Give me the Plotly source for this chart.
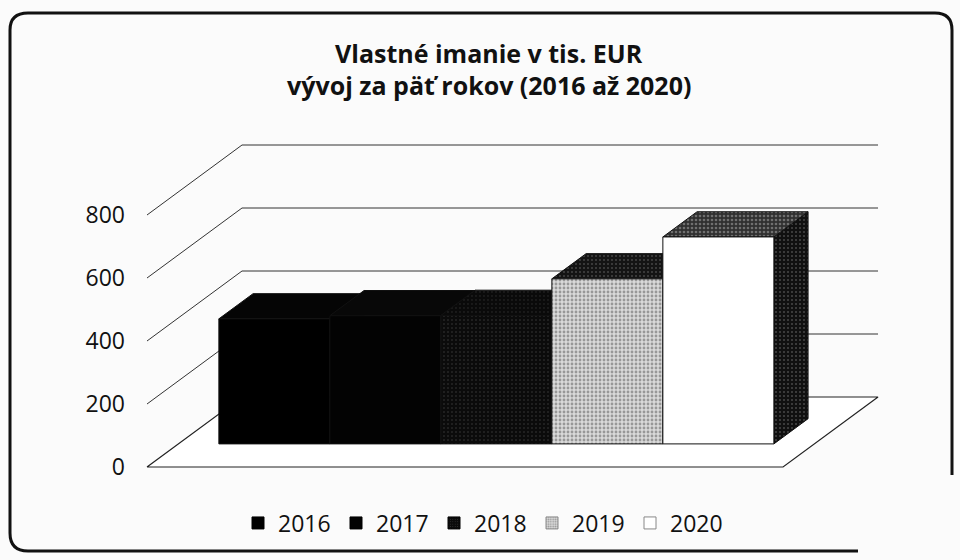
import plotly.graph_objects as go

# ---------------- data ----------------
years = ["2016", "2017", "2018", "2019", "2020"]
values = [397, 407, 408, 524, 657]
tick_vals = [0, 200, 400, 600, 800]
tick_text = ["0", "200", "400", "600", "800"]
title_line1 = "Vlastné imanie v tis. EUR"
title_line2 = "vývoj za päť rokov (2016 až 2020)"

# ---------------- geometry (oblique 3D projection in data units) ----------------
W = 960
H = 560
ML, MR, MT, MB = 130, 60, 130, 80
PX_PER_SLOT = 111.0
PX_PER_VAL = 0.315
X0_PX = 147.0   # pixel of front-left floor corner
Y0_PX = 467.0   # pixel of value 0 on front plane

DX = 95.0 / PX_PER_SLOT      # depth offset in slot units (full depth)
DY = 70.0 / PX_PER_VAL       # depth offset in value units (full depth)
GAP = 0.365                  # side gap of floor in slots
FLOOR_W = len(years) + 2 * GAP
ZF, ZB = 0.33, 0.69          # bar front/back depth

x_lo = (ML - X0_PX) / PX_PER_SLOT
x_hi = (W - MR - X0_PX) / PX_PER_SLOT
y_lo = (Y0_PX - (H - MB)) / PX_PER_VAL
y_hi = (Y0_PX - MT) / PX_PER_VAL


def proj(x, v, z):
    return x + z * DX, v + z * DY


def px2paper(px, py):
    return (px - ML) / (W - ML - MR), ((H - MB) - py) / (H - MT - MB)


FONT = "Open Sans"
fig = go.Figure()

# floor
fx, fy = [], []
for (x, z) in [(0, 0), (FLOOR_W, 0), (FLOOR_W, 1), (0, 1), (0, 0)]:
    a, b = proj(x, 0, z)
    fx.append(a)
    fy.append(b)
fig.add_trace(go.Scatter(x=fx, y=fy, mode="lines", fill="toself", fillcolor="white",
                         line=dict(color="#222", width=1.2), hoverinfo="skip",
                         showlegend=False))

# gridlines (side-wall diagonals + back-wall horizontals)
for v in tick_vals[1:]:
    a0, b0 = proj(0, v, 0)
    a1, b1 = proj(0, v, 1)
    a2, b2 = proj(FLOOR_W, v, 1)
    fig.add_trace(go.Scatter(x=[a0, a1, a2], y=[b0, b1, b2], mode="lines",
                             line=dict(color="#333", width=1), hoverinfo="skip",
                             showlegend=False))

styles = [
    dict(front=dict(bg="#000000", fg="#000000", sol=0.0),
         top=dict(bg="#050505", fg="#050505", sol=0.0),
         side=dict(bg="#000000", fg="#000000", sol=0.0)),
    dict(front=dict(bg="#030303", fg="#030303", sol=0.0),
         top=dict(bg="#080808", fg="#080808", sol=0.0),
         side=dict(bg="#000000", fg="#000000", sol=0.0)),
    dict(front=dict(bg="#0b0b0b", fg="#6a6a6a", sol=0.12),
         top=dict(bg="#0a0a0a", fg="#555555", sol=0.1),
         side=dict(bg="#050505", fg="#444444", sol=0.1)),
    dict(front=dict(bg="#d9d9d9", fg="#555555", sol=0.4),
         top=dict(bg="#141414", fg="#777777", sol=0.2),
         side=dict(bg="#0a0a0a", fg="#555555", sol=0.15)),
    dict(front=dict(bg="#ffffff", fg="#ffffff", sol=0.0),
         top=dict(bg="#303030", fg="#b0b0b0", sol=0.35),
         side=dict(bg="#101010", fg="#808080", sol=0.2)),
]


def face(xs, ys, st):
    pat = dict(shape=".", bgcolor=st["bg"], fgcolor=st["fg"], size=4,
               solidity=st["sol"]) if st["sol"] > 0 else None
    kw = dict(x=xs, y=ys, mode="lines", fill="toself", fillcolor=st["bg"],
              line=dict(color="#111", width=1), hoverinfo="skip", showlegend=False)
    if pat:
        kw["fillpattern"] = pat
    fig.add_trace(go.Scatter(**kw))


for i, (yr, val) in enumerate(zip(years, values)):
    st = styles[i]
    xl = GAP + i
    xr = xl + 1
    # side face
    pts = [(xr, 0, ZF), (xr, val, ZF), (xr, val, ZB), (xr, 0, ZB), (xr, 0, ZF)]
    xs, ys = zip(*[proj(p[0], p[1], p[2]) for p in pts])
    face(list(xs), list(ys), st["side"])
    # top face
    pts = [(xl, val, ZF), (xr, val, ZF), (xr, val, ZB), (xl, val, ZB), (xl, val, ZF)]
    xs, ys = zip(*[proj(p[0], p[1], p[2]) for p in pts])
    face(list(xs), list(ys), st["top"])
    # front face
    pts = [(xl, 0, ZF), (xr, 0, ZF), (xr, val, ZF), (xl, val, ZF), (xl, 0, ZF)]
    xs, ys = zip(*[proj(p[0], p[1], p[2]) for p in pts])
    face(list(xs), list(ys), st["front"])

# legend entries
for i, yr in enumerate(years):
    st = styles[i]["front"]
    marker = dict(color=st["bg"], line=dict(color="#888" if i >= 3 else "#000", width=1))
    if st["sol"] > 0:
        marker["pattern"] = dict(shape=".", bgcolor=st["bg"], fgcolor=st["fg"],
                                 size=3, solidity=st["sol"])
    fig.add_trace(go.Bar(x=[None], y=[None], name=yr, marker=marker, showlegend=True))

# border (open at bottom-right like the scan)
def P(px, py):
    a, b = px2paper(px, py)
    return f"{a:.5f},{b:.5f}"

border = (f"M {P(952, 475)} L {P(952, 30)} Q {P(952, 13)} {P(935, 13)} "
          f"L {P(28, 13)} Q {P(10, 13)} {P(10, 30)} L {P(10, 533)} "
          f"Q {P(10, 551)} {P(28, 551)} L {P(858, 551)}")

ax1, ay1 = px2paper(489, 53)
ax2, ay2 = px2paper(489, 85)
lx, ly = px2paper(238, 523)

fig.update_layout(
    width=W, height=H,
    margin=dict(l=ML, r=MR, t=MT, b=MB),
    paper_bgcolor="#fbfbfb", plot_bgcolor="rgba(0,0,0,0)",
    font=dict(family=FONT, color="#111"),
    xaxis=dict(range=[x_lo, x_hi], visible=False, fixedrange=True),
    yaxis=dict(range=[y_lo, y_hi], tickvals=tick_vals, ticktext=tick_text,
               showgrid=False, zeroline=False, showline=False, ticks="",
               tickfont=dict(size=23, family=FONT, color="#111"),
               ticklabelstandoff=4, fixedrange=True),
    barmode="overlay",
    showlegend=True,
    legend=dict(orientation="h", x=lx, y=ly, xanchor="left", yanchor="middle",
                font=dict(size=23, family=FONT, color="#111"), entrywidth=53,
                bgcolor="rgba(0,0,0,0)", itemwidth=30),
    shapes=[dict(type="path", xref="paper", yref="paper", path=border,
                 line=dict(color="#111", width=3), layer="above")],
    annotations=[
        dict(text=f"<b>{title_line1}</b>", x=ax1, y=ay1, xref="paper", yref="paper",
             showarrow=False, xanchor="center", yanchor="middle",
             font=dict(size=25, family=FONT, color="#111")),
        dict(text=f"<b>{title_line2}</b>", x=ax2, y=ay2, xref="paper", yref="paper",
             showarrow=False, xanchor="center", yanchor="middle",
             font=dict(size=25, family=FONT, color="#111")),
    ],
)

fig.write_html("out.html", config={"displayModeBar": False},
               post_script="document.body.style.margin='0';")
